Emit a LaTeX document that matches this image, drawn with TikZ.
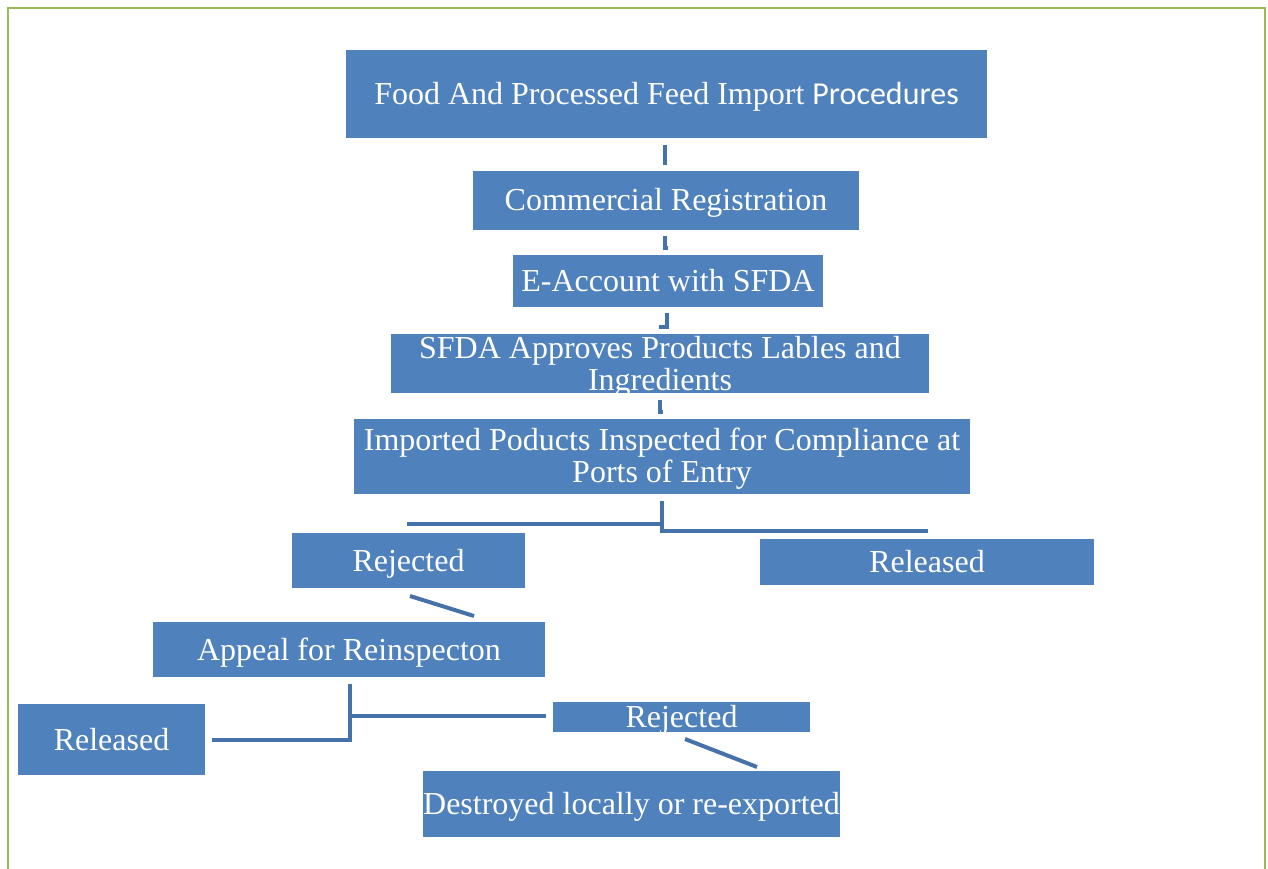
\documentclass[tikz,border=0pt]{standalone}
\usepackage{fontspec}
\setmainfont{Liberation Serif}
\newfontfamily\carlito{Carlito}
\definecolor{boxblue}{HTML}{4F81BD}
\definecolor{linkblue}{HTML}{4672AA}
\definecolor{frame}{HTML}{9BBB59}
\tikzset{
  box/.style={fill=boxblue, draw=none, inner sep=0pt, text=white,
    font=\fontsize{32}{32}\selectfont, text height=21pt, text depth=0pt},
  emptybox/.style={fill=boxblue, draw=none, inner sep=0pt},
  twoline/.style={inner sep=0pt, text=white, align=center,
    font=\fontsize{32}{32}\selectfont},
  link/.style={draw=linkblue, line width=4pt},
}
\begin{document}
\begin{tikzpicture}[x=1pt,y=-1pt]
\useasboundingbox (0,0) rectangle (1268,869);
% frame
\draw[frame, line width=2pt] (8,869) -- (8,8) -- (1265,8) -- (1265,869);

% boxes
\node[box, minimum width=641pt, minimum height=88pt] (title) at (666.5,94)
  {Food And Processed Feed Import {\carlito Procedures}};
\node[box, minimum width=386pt, minimum height=59pt] (cr) at (666,200.5)
  {Commercial Registration};
\node[box, minimum width=310pt, minimum height=52pt] (ea) at (668,281)
  {E-Account with SFDA};
\node[emptybox, minimum width=538pt, minimum height=59pt] (sfda) at (660,363.5) {};
\node[twoline] (sfdatext) at (660,367) {SFDA Approves Products Lables and\\Ingredients};
\node[emptybox, minimum width=616pt, minimum height=75pt] (imp) at (662,456.5) {};
\node[twoline] (imptext) at (662,459) {Imported Poducts Inspected for Compliance at\\Ports of Entry};
\node[box, minimum width=233pt, minimum height=55pt] (rej1) at (408.5,560.5) {Rejected};
\node[box, minimum width=334pt, minimum height=46pt] (rel1) at (927,562) {Released};
\node[box, minimum width=392pt, minimum height=55pt] (app) at (349,649.5) {Appeal for Reinspecton};
\node[box, minimum width=187pt, minimum height=71pt] (rel2) at (111.5,739.5) {Released};
\node[box, minimum width=257pt, minimum height=30pt] (rej2) at (681.5,717) {Rejected};
\node[box, minimum width=415pt, minimum height=66pt] (des) at (631.5,804) {Destroyed locally or re-exported};

% connectors
\coordinate (c1a) at (665,145);
\coordinate (c1b) at (665,165);
\draw[link] (c1a) -- (c1b);
\coordinate (c2a) at (665,236);
\coordinate (c2b) at (665,248);
\draw[link] (c2a) -- (c2b) -- ++(3,0);
\coordinate (c3a) at (667,313);
\coordinate (c3b) at (667,327);
\draw[link] (c3a) -- (c3b) -- ++(-8,0);
\coordinate (c4a) at (660,400);
\coordinate (c4b) at (660,412);
\draw[link] (c4a) -- (c4b) -- ++(3,0);

\coordinate (s1) at (662,501);
\coordinate (s1l) at (662,524);
\coordinate (s1r) at (662,531);
\draw[link] (s1) -- (s1l) -- (407,524);
\draw[link] (s1l) -- (s1r) -- (928,531);

\coordinate (d1a) at (410,596);
\coordinate (d1b) at (474,616);
\draw[link] (d1a) -- (d1b);

\coordinate (s2) at (350,684);
\coordinate (s2r) at (350,716);
\coordinate (s2l) at (350,740);
\draw[link] (s2) -- (s2r) -- (546,716);
\draw[link] (s2r) -- (s2l) -- (212,740);

\coordinate (d2a) at (685,739);
\coordinate (d2b) at (757,767);
\draw[link] (d2a) -- (d2b);
\end{tikzpicture}
\end{document}
